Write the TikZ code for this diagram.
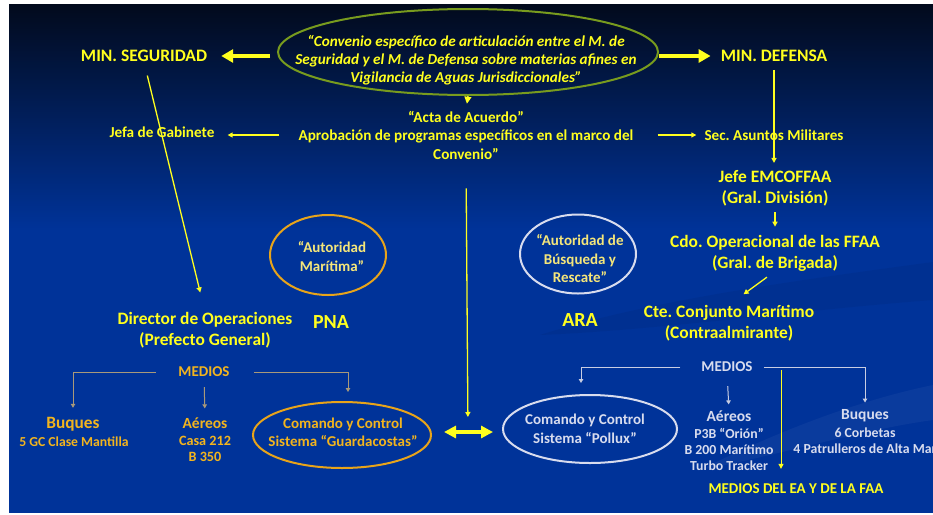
\documentclass[tikz,border=0pt]{standalone}
\usepackage{fontspec}
\setmainfont{Carlito}
\usetikzlibrary{arrows.meta,shapes.geometric}
\definecolor{bgblue}{HTML}{003399}
\definecolor{bgtop}{HTML}{020A1C}
\definecolor{bgmid}{HTML}{00205F}
\definecolor{yel}{HTML}{FFFF1E}
\definecolor{gold}{HTML}{F2B41E}
\definecolor{ora}{HTML}{E8A41A}
\definecolor{paley}{HTML}{F5E67A}
\definecolor{pale}{HTML}{D8DCEE}
\definecolor{olive}{HTML}{789B1E}
\definecolor{tanc}{HTML}{A8997A}
\definecolor{lgray}{HTML}{C8CDE2}
\frenchspacing
\begin{document}
\begin{tikzpicture}[x=1pt,y=-1pt,
  txt/.style={inner sep=0pt,font=\bfseries,align=center},
  bigf/.style={txt,text=yel,font=\bfseries\fontsize{17.5}{20}\selectfont},
  midf/.style={txt,text=yel,font=\bfseries\fontsize{17.4}{21}\selectfont},
  smf/.style={txt,text=yel,font=\bfseries\fontsize{15.2}{18.5}\selectfont},
  ellbox/.style={ellipse,draw,line width=2pt,inner sep=0pt},
  bigarr/.style={draw=yel,line width=4.5pt,-{Triangle[length=12pt,width=13pt]}},
  dblarr/.style={draw=yel,line width=4pt,{Triangle[length=12pt,width=12pt]}-{Triangle[length=12pt,width=12pt]}},
  thinarr/.style={draw=yel,line width=1.3pt,-{Triangle[length=5pt,width=5pt]}},
  gcon/.style={draw=tanc,line width=1pt,-{Triangle[length=4pt,width=4.5pt]}},
  wcon/.style={draw=lgray,line width=1pt,-{Triangle[length=4pt,width=4.5pt]}}
]
\clip (0,0) rectangle (933,514);
\fill[white] (0,0) rectangle (933,514);
\shade[top color=bgtop,middle color=bgmid,bottom color=bgblue] (9,4) rectangle (933,230);
\fill[bgblue] (9,229.5) rectangle (933,513);
% faint background swooshes
\fill[black,opacity=0.05] (540,335) .. controls (650,300) and (800,280) .. (933,262) -- (933,300) .. controls (800,310) and (660,330) .. (540,335) -- cycle;
\fill[white,opacity=0.04] (700,470) .. controls (780,430) and (860,400) .. (933,385) -- (933,420) .. controls (860,430) and (780,455) .. (700,470) -- cycle;

% top ellipse
\node[ellbox,draw=olive,minimum width=380pt,minimum height=86pt] (conv) at (468,52) {};
\node[txt,text=yel,font=\bfseries\itshape\fontsize{15.2}{18}\selectfont] (convtxt) at (466,60)
 {“Convenio específico de articulación entre el M. de\\Seguridad y el M. de Defensa sobre materias afines en\\Vigilancia de Aguas Jurisdiccionales”};

\node[bigf] (minseg) at (144,56) {MIN. SEGURIDAD};
\node[bigf] (mindef) at (774,56) {MIN. DEFENSA};

\node[smf] (acta) at (466,135) {“Acta de Acuerdo”\\Aprobación de programas específicos en el marco del\\Convenio”};
\node[smf] (jefa) at (162,132) {Jefa de Gabinete};
\node[smf] (sec) at (774,135) {Sec. Asuntos Militares};

\node[midf] (jefe) at (775,188) {Jefe EMCOFFAA\\(Gral. División)};
\node[midf] (cdo) at (775,253) {Cdo. Operacional de las FFAA\\(Gral. de Brigada)};
\node[midf] (cte) at (729,323) {Cte. Conjunto Marítimo\\(Contraalmirante)};
\node[midf] (dir) at (205,330) {Director de Operaciones\\(Prefecto General)};

\node[txt,text=yel,font=\bfseries\fontsize{20}{22}\selectfont] (pna) at (331,322) {PNA};
\node[txt,text=yel,font=\bfseries\fontsize{20}{22}\selectfont] (ara) at (580,320) {ARA};

\node[ellbox,draw=ora,minimum width=116pt,minimum height=80pt] (am) at (328,255) {};
\node[txt,text=paley,font=\bfseries\fontsize{15}{19}\selectfont] (amt) at (332,257) {“Autoridad\\Marítima”};
\node[ellbox,draw=pale,minimum width=116pt,minimum height=79pt] (abr) at (578,254) {};
\node[txt,text=paley,font=\bfseries\fontsize{15}{18.5}\selectfont] (abrt) at (580,259) {“Autoridad de\\Búsqueda y\\Rescate”};

\node[ellbox,draw=ora,minimum width=178pt,minimum height=66pt] (gc) at (342,435) {};
\node[txt,text=gold,font=\bfseries\fontsize{15}{18}\selectfont] (gct) at (343,432) {Comando y Control\\Sistema “Guardacostas”};
\node[ellbox,draw=pale,minimum width=174pt,minimum height=68pt] (pol) at (590,429) {};
\node[txt,text=pale,font=\bfseries\fontsize{15}{19}\selectfont] (polt) at (585,429) {Comando y Control\\Sistema “Pollux”};

\node[txt,text=gold,font=\bfseries\fontsize{15}{15}\selectfont] (medL) at (204,372) {MEDIOS};
\node[txt,text=gold,font=\bfseries\fontsize{17.3}{18}\selectfont] (bqL) at (73,424) {Buques};
\node[txt,text=gold,font=\bfseries\fontsize{13.7}{16}\selectfont] (bqLt) at (74,442) {5 GC Clase Mantilla};
\node[txt,text=gold,font=\bfseries\fontsize{15.5}{16}\selectfont] (aeL) at (205,423) {Aéreos};
\node[txt,text=gold,font=\bfseries\fontsize{14.2}{16}\selectfont] (aeLt) at (205,449) {Casa 212\\B 350};

\node[txt,text=pale,font=\bfseries\fontsize{15}{15}\selectfont] (medR) at (727,367) {MEDIOS};
\node[txt,text=pale,font=\bfseries\fontsize{15.5}{16}\selectfont] (aeR) at (729,416) {Aéreos};
\node[txt,text=pale,font=\bfseries\fontsize{13.8}{16}\selectfont] (aeRt) at (729,449) {P3B “Orión”\\B 200 Marítimo\\Turbo Tracker};
\node[txt,text=pale,font=\bfseries\fontsize{15.5}{16}\selectfont] (bqR) at (865,416) {Buques};
\node[txt,text=pale,font=\bfseries\fontsize{13.8}{16}\selectfont] (bqRt) at (865,441) {6 Corbetas\\4 Patrulleros de Alta Mar};
\node[txt,text=yel,font=\bfseries\fontsize{15}{16}\selectfont] (ea) at (796,489) {MEDIOS DEL EA Y DE LA FAA};

\coordinate (dbl) at (468,432);
\coordinate (ysplit) at (781,370);

% connectors
\draw[bigarr,shorten <=7pt,shorten >=14pt] (conv.west |- minseg) -- (minseg.east);
\draw[bigarr,shorten >=10pt] (conv.east |- mindef) -- (mindef.west);
\draw[thinarr,-{Triangle[length=7pt,width=7pt]},shorten >=7pt] (conv.south) -- (acta.north);
\draw[thinarr,shorten <=19pt,shorten >=13pt] (acta.west) -- (acta.west -| jefa.east);
\draw[thinarr,shorten <=24pt,shorten >=8pt] (acta.east) -- (acta.east -| sec.west);
\draw[thinarr,shorten <=14pt,shorten >=20pt] (minseg.south) -- (dir.north);
\draw[thinarr,shorten <=8pt,shorten >=7pt] (mindef.south) -- (mindef.south |- jefe.north);
\draw[thinarr,shorten <=6pt,shorten >=8pt] (jefe.south) -- (cdo.north);
\draw[thinarr,shorten <=10pt,shorten >=18pt] (cdo.south) -- (cte.north);
\draw[thinarr,shorten <=29pt,shorten >=15pt] (acta.south) -- (dbl);
\draw[dblarr,shorten <=12pt,shorten >=9pt] (gc.east |- dbl) -- (pol.west |- dbl);

\draw[gcon,shorten <=22pt,shorten >=9pt] (medL.west) -| (bqL.north);
\draw[gcon,shorten <=10pt,shorten >=9pt] (medL.south) -- (aeL.north);
\draw[gcon,shorten <=24pt,shorten >=9pt] (medL.east) -| ([xshift=6pt]gc.north);

\draw[wcon,shorten <=21pt,shorten >=11pt] (medR.west) -| ([xshift=-9pt]pol.north);
\draw[wcon,shorten <=14pt,shorten >=6pt] (medR.south) -- (aeR.north);
\draw[wcon,shorten <=11pt,shorten >=7pt] (medR.east) -| (bqR.north);
\draw[thinarr,line width=1pt,shorten >=15pt] (ysplit) -- (ysplit |- ea.north);
\end{tikzpicture}
\end{document}
